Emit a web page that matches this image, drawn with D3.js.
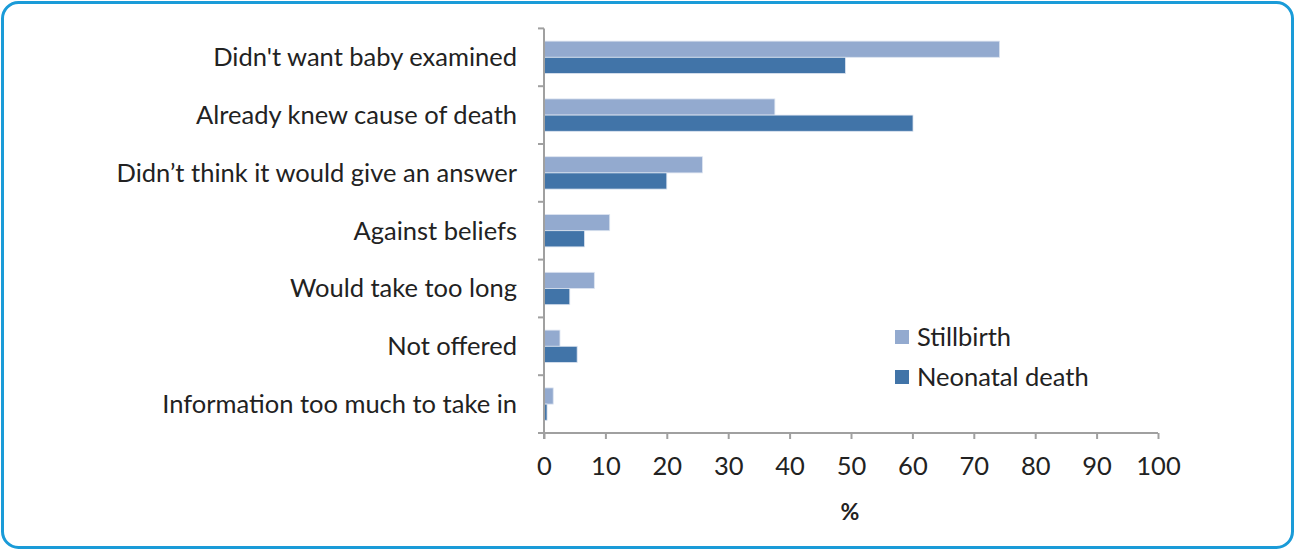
<!DOCTYPE html>
<html>
<head>
<meta charset="utf-8">
<script src="https://cdn.jsdelivr.net/npm/d3@7"></script>
<style>
html,body{margin:0;padding:0;background:#fff;}
svg{display:block;}
</style>
</head>
<body>
<svg id="chart" width="1295" height="550"></svg>
<script>
const categories = [
  "Didn't want baby examined",
  "Already knew cause of death",
  "Didn\u2019t think it would give an answer",
  "Against beliefs",
  "Would take too long",
  "Not offered",
  "Information too much to take in"
];
const seriesNames = ["Stillbirth", "Neonatal death"];
const stillbirth = [74.2, 37.6, 25.8, 10.7, 8.2, 2.6, 1.5];
const neonatal = [49.1, 60.1, 20.0, 6.6, 4.2, 5.4, 0.5];
const xTicks = [0,10,20,30,40,50,60,70,80,90,100];
const colors = ["#93AACF", "#4174A8"];
const font = "Lato, 'Open Sans', sans-serif";

(function(){
const svg = d3.select("#chart");
svg.append("rect").attr("x",2.5).attr("y",2.5).attr("width",1290).attr("height",545)
  .attr("rx",16).attr("ry",16).attr("fill","#fff").attr("stroke","#1A9BD8").attr("stroke-width",3);

const pLeft = 544, pRight = 1158, pTop = 28.4, pBottom = 433;
const x = d3.scaleLinear().domain([0,100]).range([pLeft,pRight]);
const y = d3.scaleBand().domain(categories).range([pTop,pBottom]).paddingInner(0.44).paddingOuter(0.22);
const sub = d3.scaleBand().domain(seriesNames).range([0,y.bandwidth()]);

const data = categories.map((c,i)=>({cat:c, vals:[stillbirth[i], neonatal[i]]}));
const g = svg.append("g");
data.forEach(d=>{
  d.vals.forEach((v,j)=>{
    g.append("rect")
      .attr("x", x(0))
      .attr("y", y(d.cat)+sub(seriesNames[j]))
      .attr("width", x(v)-x(0))
      .attr("height", sub.bandwidth())
      .attr("fill", colors[j])
      .attr("stroke", "#DCE4F0").attr("stroke-width", 0.8);
  });
});

// x axis
const xAxis = d3.axisBottom(x).tickValues(xTicks).tickSize(6).tickPadding(18).tickFormat(d3.format("d"));
const xg = svg.append("g").attr("transform",`translate(0,${pBottom})`).call(xAxis);
xg.select(".domain").attr("stroke","#A0A0A0").attr("stroke-width",2).attr("d",`M${pLeft},0H${pRight}`);
xg.selectAll(".tick line").attr("stroke","#A0A0A0").attr("stroke-width",2);
xg.selectAll(".tick text").attr("font-family",font).attr("font-size",25.5).attr("fill","#222");

// y axis
const yBoundaries = d3.range(categories.length+1).map(i=>pTop + i*(pBottom-pTop)/categories.length);
const yg = svg.append("g");
yg.append("line").attr("x1",pLeft).attr("x2",pLeft).attr("y1",pTop).attr("y2",pBottom+6)
  .attr("stroke","#A0A0A0").attr("stroke-width",2);
yg.selectAll("line.tk").data(yBoundaries).join("line").attr("class","tk")
  .attr("x1",pLeft-6).attr("x2",pLeft).attr("y1",d=>d).attr("y2",d=>d)
  .attr("stroke","#A0A0A0").attr("stroke-width",2);
yg.selectAll("text").data(categories).join("text")
  .attr("x",517).attr("y",d=>y(d)+y.bandwidth()/2).attr("dy","0.35em")
  .attr("text-anchor","end").attr("font-family",font).attr("font-size",25.5).attr("fill","#222")
  .text(d=>d);

// axis title
svg.append("text").attr("x",850).attr("y",520).attr("text-anchor","middle")
  .attr("font-family",font).attr("font-size",23).attr("font-weight","bold").attr("fill","#222").text("%");

// legend
const lg = svg.append("g");
seriesNames.forEach((s,i)=>{
  const cy = 337 + i*40;
  lg.append("rect").attr("x",895).attr("y",cy-7).attr("width",14).attr("height",14).attr("fill",colors[i]);
  lg.append("text").attr("x",917).attr("y",cy).attr("dy","0.35em").attr("font-family",font)
    .attr("font-size",25.5).attr("fill","#222").text(s);
});
})();
</script>
</body>
</html>
